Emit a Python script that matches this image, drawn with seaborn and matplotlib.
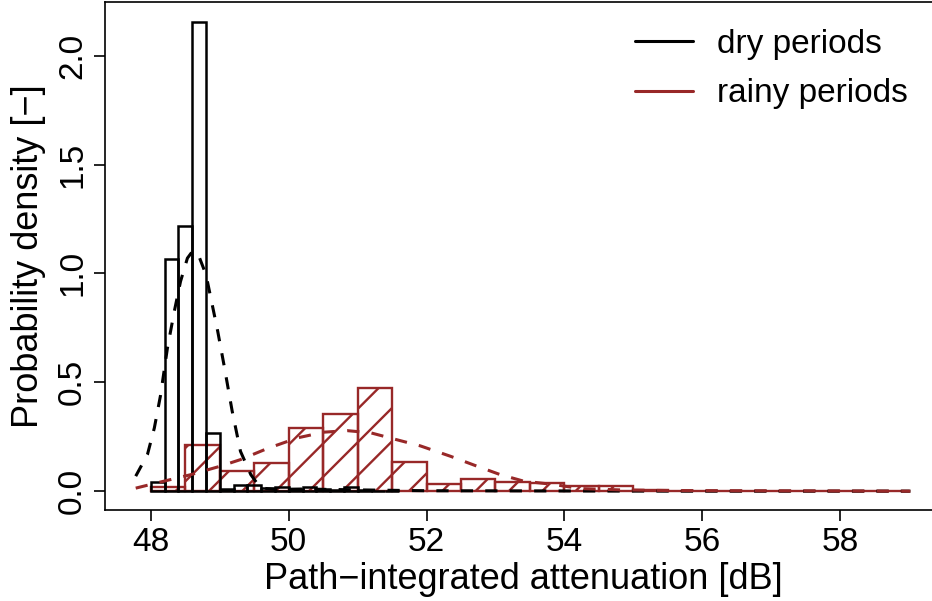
import numpy as np
import pandas as pd
import seaborn as sns
import matplotlib
matplotlib.use('Agg')
import matplotlib.pyplot as plt
from matplotlib.lines import Line2D

# histogram densities
dry_start, dry_width = 48.0, 0.2
dry_density = [0.042, 1.065, 1.22, 2.156, 0.265, 0.011, 0.030, 0.027, 0.015,
               0.020, 0.009, 0.020, 0.008, 0.004, 0.020, 0.005, 0.002, 0.0]

rain_start, rain_width = 48.0, 0.5
rain_density = [0.018, 0.211, 0.092, 0.130, 0.288, 0.355, 0.474, 0.134, 0.034,
                0.054, 0.043, 0.038, 0.024, 0.024, 0.004, 0.002, 0.0, 0.0,
                0.0, 0.0, 0.0, 0.0]

# kernel density curves (dashed)
dry_kde_x = [47.78, 47.95, 48.05, 48.14, 48.24, 48.34, 48.43, 48.53, 48.60, 48.68,
             48.80, 48.87, 48.97, 49.06, 49.18, 49.30, 49.45, 49.59, 49.8, 50.2,
             51.0, 52.0, 54.0, 56.0, 59.02]
dry_kde_y = [0.069, 0.168, 0.29, 0.44, 0.657, 0.826, 0.963, 1.07, 1.10, 1.093,
             0.994, 0.887, 0.734, 0.581, 0.367, 0.183, 0.076, 0.015, 0.008, 0.010,
             0.006, 0.002, 0.001, 0.0, 0.0]

rain_kde_x = [47.78, 48.19, 48.58, 49.01, 49.30, 49.69, 50.13, 50.51, 50.85, 51.19,
              51.62, 51.91, 52.35, 52.73, 53.07, 53.41, 53.84, 54.23, 54.8, 55.5,
              56.5, 58.0, 59.02]
rain_kde_y = [0.014, 0.046, 0.076, 0.115, 0.145, 0.196, 0.245, 0.271, 0.278, 0.268,
              0.232, 0.208, 0.160, 0.115, 0.076, 0.046, 0.031, 0.012, 0.006, 0.003,
              0.002, 0.001, 0.0]

labels = ['dry periods', 'rainy periods']
red = '#982828'

sns.set_theme(style='ticks')
plt.rcParams['font.family'] = ['Liberation Sans', 'DejaVu Sans']
plt.rcParams['text.color'] = 'black'
plt.rcParams['axes.labelcolor'] = 'black'
plt.rcParams['xtick.color'] = 'black'
plt.rcParams['ytick.color'] = 'black'
plt.rcParams['hatch.linewidth'] = 0.85
plt.rcParams['hatch.color'] = red
fs = 12

fig = plt.figure(figsize=(4.66, 3.005), dpi=200)
ax = fig.add_axes([104.7 / 932, 1 - 510 / 601, (941.4 - 104.7) / 932, 508 / 601])

dry_edges = [float(e) for e in dry_start + dry_width * np.arange(len(dry_density) + 1)]
rain_edges = [float(e) for e in rain_start + rain_width * np.arange(len(rain_density) + 1)]
df_dry = pd.DataFrame({'pia': np.array(dry_edges[:-1]) + dry_width / 2, 'dens': dry_density})
df_rain = pd.DataFrame({'pia': np.array(rain_edges[:-1]) + rain_width / 2, 'dens': rain_density})

sns.histplot(data=df_rain, x='pia', weights='dens', bins=rain_edges, stat='count',
             fill=False, color=red, linewidth=0.85, hatch='//', ax=ax)
sns.histplot(data=df_dry, x='pia', weights='dens', bins=dry_edges, stat='count',
             fill=False, color='black', linewidth=0.9, ax=ax)
sns.lineplot(x=dry_kde_x, y=dry_kde_y, color='black', linewidth=1.1,
             linestyle=(0, (4, 4)), ax=ax)
sns.lineplot(x=rain_kde_x, y=rain_kde_y, color=red, linewidth=1.1,
             linestyle=(0, (4, 4)), ax=ax)

ax.set_xlim(47.33, 59.47)
ax.set_ylim(-0.0864, 2.2464)
ax.set_xticks([48, 50, 52, 54, 56, 58])
ax.set_yticks([0.0, 0.5, 1.0, 1.5, 2.0])
ax.set_yticklabels(['0.0', '0.5', '1.0', '1.5', '2.0'], rotation=90, va='center')
ax.tick_params(length=4, width=0.6, labelsize=fs, pad=2)
for s in ax.spines.values():
    s.set_linewidth(0.6)
    s.set_color('black')
ax.set_xlabel('Path\u2212integrated attenuation [dB]', fontsize=13, labelpad=1.5)
ax.set_ylabel('Probability density [\u2212]', fontsize=13, labelpad=4)

handles = [Line2D([], [], color='black', lw=1.1), Line2D([], [], color=red, lw=1.1)]
fig.legend(handles, labels, loc='upper left', bbox_to_anchor=(635 / 932, 1 - 29 / 601),
           frameon=False, fontsize=fs, borderpad=0, borderaxespad=0,
           handlelength=1.75, handletextpad=0.72, labelspacing=0.55)

plt.savefig('out.png', dpi=200)
